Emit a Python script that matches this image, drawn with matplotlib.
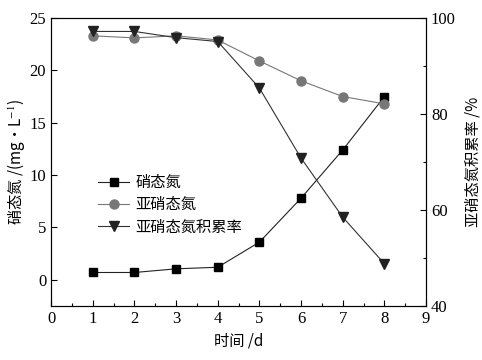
import matplotlib
matplotlib.use("Agg")
import matplotlib.pyplot as plt
from matplotlib.ticker import MultipleLocator

plt.rcParams['font.family'] = ['Liberation Serif', 'Noto Sans CJK SC']
plt.rcParams['mathtext.fontset'] = 'stix'

days = [1, 2, 3, 4, 5, 6, 7, 8]
nitrate = [0.7, 0.7, 1.05, 1.2, 3.6, 7.8, 12.4, 17.5]
nitrite = [23.3, 23.1, 23.3, 22.9, 20.9, 19.0, 17.5, 16.8]
accum_rate = [97.2, 97.2, 95.9, 95.1, 85.4, 70.8, 58.5, 48.8]

labels = ['硝态氮', '亚硝态氮', '亚硝态氮积累率']
xlabel = '时间 /d'
ylabel_left = '硝态氮 /(mg·L$^{-1}$)'
ylabel_right = '亚硝态氮积累率 /%'

fig = plt.figure(figsize=(4.82, 3.6), dpi=100)
ax = fig.add_axes([0.106, 0.15, 0.778, 0.80])
ax2 = ax.twinx()

l1, = ax.plot(days, nitrate, '-s', color='#222222', mfc='black', mec='black', ms=6, lw=0.8)
l2, = ax.plot(days, nitrite, '-o', color='#777777', mfc='#777777', mec='#777777', ms=6.5, lw=0.8)
l3, = ax2.plot(days, accum_rate, '-v', color='#333333', mfc='#222222', mec='#222222', ms=7, lw=0.8)

ax.set_xlim(0, 9)
ax.set_ylim(-2.5, 25)
ax2.set_ylim(40, 100)
ax.xaxis.set_major_locator(MultipleLocator(1))
ax.xaxis.set_minor_locator(MultipleLocator(0.5))
ax.yaxis.set_major_locator(MultipleLocator(5))
ax2.yaxis.set_major_locator(MultipleLocator(20))
ax2.yaxis.set_minor_locator(MultipleLocator(10))

for a in (ax, ax2):
    a.tick_params(direction='in', which='both', labelsize=12, length=4, width=0.8)
    a.tick_params(which='minor', length=2.5)
    for s in a.spines.values():
        s.set_linewidth(0.8)

ax.set_xlabel(xlabel, fontsize=11, family=['Noto Sans CJK SC', 'Liberation Serif'], labelpad=4)
ax.set_ylabel(ylabel_left, fontsize=11, family=['Noto Sans CJK SC', 'Liberation Serif'], labelpad=2)
ax2.set_ylabel(ylabel_right, fontsize=11, family=['Noto Sans CJK SC', 'Liberation Serif'], rotation=90, labelpad=6)

leg = ax.legend([l1, l2, l3], labels, loc='upper left', bbox_to_anchor=(0.11, 0.48), frameon=False,
                prop={'family': ['Noto Sans CJK SC'], 'size': 11}, handlelength=2.0, handletextpad=0.4,
                labelspacing=0.35, borderaxespad=0)

fig.savefig('out.png', dpi=100)
